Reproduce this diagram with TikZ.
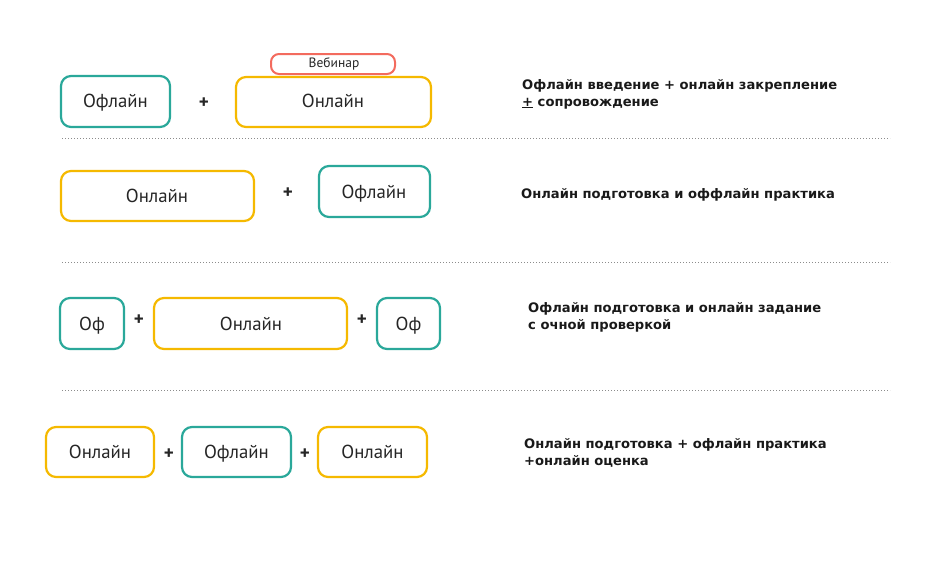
\documentclass[tikz,border=0pt]{standalone}
\usepackage{fontspec}
\setmainfont{PT Sans}
\newfontfamily\descfont{DejaVu Sans}
\begin{document}
\begin{tikzpicture}[x=1pt,y=-1pt,
  box/.style={draw, line width=2.2pt, rounded corners=10pt, fill=white},
  offbox/.style={box, draw=teal1},
  onbox/.style={box, draw=yel1},
  webbox/.style={box, draw=red1, line width=2pt, rounded corners=8pt},
  lbl/.style={font=\fontsize{18.8}{20}\selectfont, text=black!85, text height=13pt, text depth=1pt},
  wlbl/.style={font=\fontsize{13.5}{15}\selectfont, text=black!85},
  plus/.style={font=\bfseries\fontsize{19}{20}\selectfont, text=black!85},
  desc/.style={anchor=north west, align=left, inner sep=0pt, font=\descfont\bfseries\fontsize{13.1}{17}\selectfont, text=black!90},
  sep/.style={draw=black!45, line width=1pt, dotted}
]
\definecolor{teal1}{HTML}{2AA89A}
\definecolor{yel1}{HTML}{F5B900}
\definecolor{red1}{HTML}{F36B5E}
\useasboundingbox (0,0) rectangle (945,584);
% Row 1
\draw[offbox] (61,76) rectangle (170,127);
\node[lbl] (r1a) at (115.5,101.5) {Офлайн};
\node[plus] (r1p) at (204,103) {+};
\draw[onbox] (236,77) rectangle (431,127);
\node[lbl] (r1b) at (333,101.5) {Онлайн};
\draw[webbox] (271,54) rectangle (395,74);
\node[wlbl] (r1w) at (334,64) {Вебинар};
\node[desc] (r1d) at (522,79) {Офлайн введение + онлайн закрепление\\\underline{+} сопровождение};
\coordinate (s1a) at (62,138); \coordinate (s1b) at (890,138);
\draw[sep] (s1a) -- (s1b);
% Row 2
\draw[onbox] (61,171) rectangle (254,221);
\node[lbl] (r2a) at (157,196) {Онлайн};
\node[plus] (r2p) at (288,193) {+};
\draw[offbox] (319,166) rectangle (430,217);
\node[lbl] (r2b) at (374,192.5) {Офлайн};
\node[desc] (r2d) at (521,188) {Онлайн подготовка и оффлайн практика};
\coordinate (s2a) at (62,262); \coordinate (s2b) at (890,262);
\draw[sep] (s2a) -- (s2b);
% Row 3
\draw[offbox] (60,298) rectangle (124,349);
\node[lbl] (r3a) at (92,324) {Оф};
\node[plus] (r3p) at (139,320) {+};
\draw[onbox] (154,298) rectangle (347,349);
\node[lbl] (r3b) at (251,324) {Онлайн};
\node[plus] (r3q) at (362,320) {+};
\draw[offbox] (377,298) rectangle (440,349);
\node[lbl] (r3c) at (408.5,324) {Оф};
\node[desc] (r3d) at (528,302) {Офлайн подготовка и онлайн задание\\с очной проверкой};
\coordinate (s3a) at (62,390); \coordinate (s3b) at (890,390);
\draw[sep] (s3a) -- (s3b);
% Row 4
\draw[onbox] (46,427) rectangle (154,477);
\node[lbl] (r4a) at (100,452) {Онлайн};
\node[plus] (r4p) at (169,454) {+};
\draw[offbox] (182,427) rectangle (291,477);
\node[lbl] (r4b) at (236.5,452) {Офлайн};
\node[plus] (r4q) at (305,454) {+};
\draw[onbox] (318,427) rectangle (427,477);
\node[lbl] (r4c) at (372.5,452) {Онлайн};
\node[desc] (r4d) at (524,438) {Онлайн подготовка + офлайн практика\\+онлайн оценка};
\end{tikzpicture}
\end{document}
